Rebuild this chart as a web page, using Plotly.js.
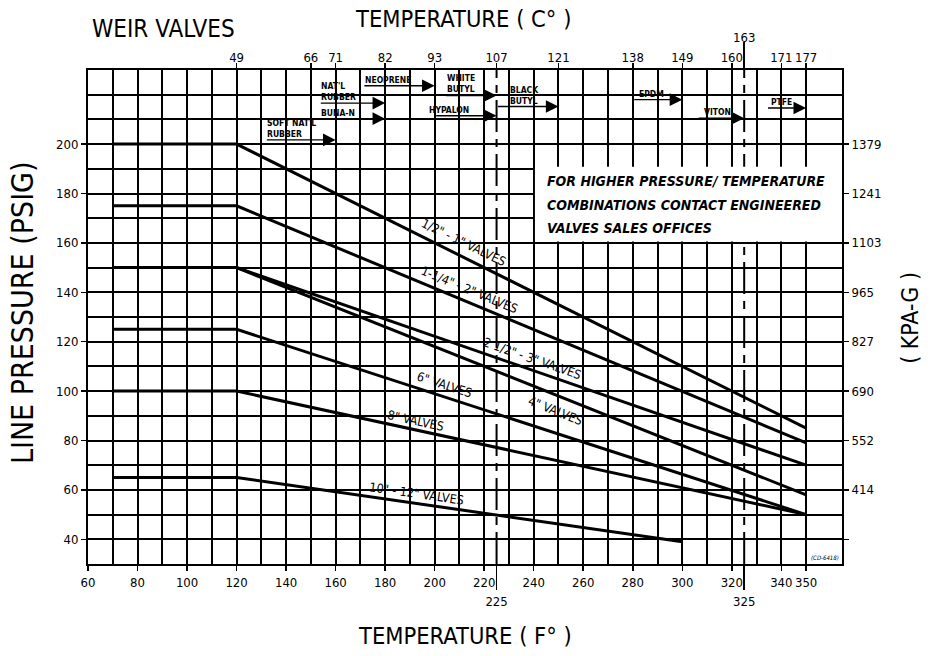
<!DOCTYPE html>
<html><head><meta charset="utf-8">
<script src="https://cdn.plot.ly/plotly-3.0.1.min.js"></script>
<style>html,body{margin:0;padding:0;background:#fff}#chart{width:942px;height:656px}</style>
</head><body><div id="chart"></div>
<script>
// ---------------- data ----------------
const seriesNames = ['1/2" - 1" VALVES', '1-1/4" - 2" VALVES', '2 1/2" - 3" VALVES', '4" VALVES', '6" VALVES', '8" VALVES', '10" - 12" VALVES'];
const tempF = [70, 120, 350];
const tempF10to12 = [70, 120, 300];
const psiHalfToOne = [200, 200, 85];
const psiOneQtrToTwo = [175, 175, 79];
const psiTwoHalfToThree = [150, 150, 70];
const psiFour = [150, 150, 58];
const psiSix = [125, 125, 50];
const psiEight = [100, 100, 50];
const psiTenToTwelve = [65, 65, 39];

const xTickF = [60, 80, 100, 120, 140, 160, 180, 200, 220, 240, 260, 280, 300, 320, 340, 350];
const xMinorF = [70, 90, 110, 130, 150, 170, 190, 210, 230, 250, 270, 290, 310, 330];
const celsiusAtF = [120, 150, 160, 180, 200, 225, 250, 280, 300, 320, 340, 350];
const celsiusText = ['49', '66', '71', '82', '93', '107', '121', '138', '149', '160', '171', '177'];
const celsiusHighF = [325];
const celsiusHighText = ['163'];
const extraF = [225, 325];
const extraFText = ['225', '325'];
const yTickPsi = [200, 180, 160, 140, 120, 100, 80, 60, 40];
const yMinorPsi = [50, 70, 90, 110, 130, 150, 170, 190, 210, 220];
const kpaText = ['1379', '1241', '1103', '965', '827', '690', '552', '414', ''];

const materials = ["SOFT NAT'L<br>RUBBER", "NAT'L<br>RUBBER", 'BUNA-N', 'NEOPRENE', 'WHITE<br>BUTYL', 'HYPALON', 'BLACK<br>BUTYL', 'EPDM', 'VITON', 'PTFE'];
const matMaxF = [160, 180, 180, 200, 225, 225, 250, 300, 325, 350];
const matStartF = [131.6, 153.4, 153.4, 171, 204, 200, 225, 280, 306, 334];
const matPsi = [201.7, 216.6, 210.3, 223.6, 219.7, 211.5, 215.2, 218, 210.5, 214.6];

const noteLines = ['FOR HIGHER PRESSURE/ TEMPERATURE', 'COMBINATIONS CONTACT ENGINEERED', 'VALVES SALES OFFICES'];

// ---------------- presentation ----------------
const FONT = '"DejaVu Sans Condensed","Liberation Sans Narrow","Arial Narrow","Liberation Sans",Arial,sans-serif';
const X0 = 60, X1 = 364.5, Y0 = 30, Y1 = 230;
const BLK = '#000';
const tickFont = {family: FONT, size: 13, color: BLK};

const seriesX = [tempF, tempF, tempF, tempF, tempF, tempF, tempF10to12];
const seriesY = [psiHalfToOne, psiOneQtrToTwo, psiTwoHalfToThree, psiFour, psiSix, psiEight, psiTenToTwelve];
const labelF = [212, 214, 239.6, 248.7, 203.9, 192.2, 192.8];
const labelPsi = [160.3, 141.2, 113, 92.3, 102.8, 88.2, 58.5];
const labelAngle = [26, 22.6, 19.2, 21.8, 18, 12.3, 8.2];
const matTextF = [131.6, 153.4, 153.4, 171, 204.3, 197, 229.7, 281.7, 308, 335];
const notePsi = [185.1, 175.3, 165.9];

const traces = seriesY.map((y, i) => ({
  type: 'scatter', mode: 'lines', x: seriesX[i], y: y, name: seriesNames[i],
  line: {color: BLK, width: 3}, hoverinfo: 'skip', showlegend: false
}));
// empty traces so the overlay axes are registered
[['x2', 'y'], ['x3', 'y'], ['x4', 'y'], ['x', 'y2']].forEach(([xa, ya]) => {
  traces.push({type: 'scatter', mode: 'lines', x: [], y: [], xaxis: xa, yaxis: ya, hoverinfo: 'skip', showlegend: false});
});

const baseX = {range: [X0, X1], zeroline: false, fixedrange: true, tickangle: 0, tickfont: tickFont,
  tickcolor: BLK, tickwidth: 1.5, ticks: 'outside', tickmode: 'array'};

const annotations = [];
// titles
annotations.push({xref: 'paper', yref: 'paper', x: 0.0027, y: 1.083, xanchor: 'left', yanchor: 'middle', showarrow: false,
  text: 'WEIR VALVES', font: {family: FONT, size: 24, color: BLK}});
annotations.push({xref: 'paper', yref: 'paper', x: 0.497, y: 1.103, xanchor: 'center', yanchor: 'middle', showarrow: false,
  text: 'TEMPERATURE ( C° )', font: {family: FONT, size: 23.5, color: BLK}});
annotations.push({xref: 'paper', yref: 'paper', x: 0.5, y: -0.146, xanchor: 'center', yanchor: 'middle', showarrow: false,
  text: 'TEMPERATURE ( F° )', font: {family: FONT, size: 23.5, color: BLK}});
annotations.push({xref: 'paper', yref: 'paper', x: -0.0875, y: 0.508, xanchor: 'center', yanchor: 'middle', showarrow: false,
  textangle: -90, text: 'LINE PRESSURE (PSIG)', font: {family: FONT, size: 30, color: BLK}});
annotations.push({xref: 'paper', yref: 'paper', x: 1.090, y: 0.498, xanchor: 'center', yanchor: 'middle', showarrow: false,
  textangle: -90, text: '( KPA-G )', font: {family: FONT, size: 23, color: BLK}});
annotations.push({xref: 'paper', yref: 'paper', x: 0.977, y: 0.014, xanchor: 'center', yanchor: 'middle', showarrow: false,
  text: '(CD-6418)', font: {family: FONT, size: 6, color: BLK, style: 'italic'}});
// series labels
seriesNames.forEach((t, i) => annotations.push({x: labelF[i], y: labelPsi[i], text: t, textangle: labelAngle[i],
  showarrow: false, xanchor: 'center', yanchor: 'middle', font: {family: FONT, size: 12.5, color: BLK}}));
// material arrows & labels
materials.forEach((m, i) => {
  annotations.push({x: matMaxF[i], y: matPsi[i], ax: matStartF[i], ay: matPsi[i], axref: 'x', ayref: 'y',
    text: '', showarrow: true, arrowhead: 2, arrowsize: 1.8, arrowwidth: 1.4, arrowcolor: BLK, standoff: 0, startstandoff: 0});
  annotations.push({x: matTextF[i], y: matPsi[i], text: m, showarrow: false, xanchor: 'left', yanchor: 'bottom', align: 'left',
    yshift: -1, font: {family: FONT, size: 8.5, color: BLK, weight: 'bold'}});
});
// note box text
noteLines.forEach((t, i) => annotations.push({x: 244.6, y: notePsi[i], text: t, showarrow: false, xanchor: 'left', yanchor: 'middle',
  font: {family: FONT, size: 14, color: BLK, style: 'italic', weight: 'bold'}}));

const shapes = extraF.map(f => ({type: 'line', xref: 'x', yref: 'paper', x0: f, x1: f, y0: 0, y1: 1, layer: 'between',
  line: {color: BLK, width: 2, dash: '32px,7px,8px,7px'}}));
shapes.push({type: 'rect', xref: 'x', yref: 'y', x0: 240.5, x1: X1, y0: 160.6, y1: 190.8, layer: 'between',
  fillcolor: '#fff', line: {width: 0}});

const layout = {
  width: 942, height: 656,
  margin: {l: 88, r: 100, t: 70, b: 92, pad: 0},
  paper_bgcolor: '#fff', plot_bgcolor: '#fff', showlegend: false,
  font: {family: FONT, color: BLK},
  xaxis: Object.assign({}, baseX, {
    tickvals: xTickF, ticktext: xTickF.map(String), ticklen: 5,
    showgrid: true, gridcolor: BLK, gridwidth: 2,
    minor: {tickmode: 'array', tickvals: xMinorF, showgrid: true, gridcolor: BLK, gridwidth: 2, ticks: ''},
    showline: true, linecolor: BLK, linewidth: 2, mirror: true
  }),
  xaxis2: Object.assign({}, baseX, {overlaying: 'x', side: 'top', anchor: 'y', ticklabelstandoff: -4,
    tickvals: celsiusAtF, ticktext: celsiusText, ticklen: 6, showgrid: false, showline: false}),
  xaxis3: Object.assign({}, baseX, {overlaying: 'x', side: 'top', anchor: 'y', ticklabelstandoff: -5,
    tickvals: celsiusHighF, ticktext: celsiusHighText, ticklen: 27, showgrid: false, showline: false}),
  xaxis4: Object.assign({}, baseX, {overlaying: 'x', side: 'bottom', anchor: 'y',
    tickvals: extraF, ticktext: extraFText, ticklen: 25, showgrid: false, showline: false}),
  yaxis: {range: [Y0, Y1], zeroline: false, fixedrange: true, tickmode: 'array', tickvals: yTickPsi,
    ticktext: yTickPsi.map(String), ticks: 'outside', ticklen: 5, tickwidth: 1.5, tickcolor: BLK, tickfont: tickFont,
    showgrid: true, gridcolor: BLK, gridwidth: 2,
    minor: {tickmode: 'array', tickvals: yMinorPsi, showgrid: true, gridcolor: BLK, gridwidth: 2, ticks: ''},
    showline: true, linecolor: BLK, linewidth: 2, mirror: true},
  yaxis2: {overlaying: 'y', side: 'right', anchor: 'x', range: [Y0, Y1], zeroline: false, fixedrange: true,
    tickmode: 'array', tickvals: yTickPsi, ticktext: kpaText, ticks: 'outside', ticklen: 6, tickwidth: 1.5,
    tickcolor: BLK, tickfont: tickFont, showgrid: false, showline: false},
  annotations: annotations,
  shapes: shapes
};

Plotly.newPlot('chart', traces, layout, {staticPlot: true, displayModeBar: false});
</script>
</body></html>
